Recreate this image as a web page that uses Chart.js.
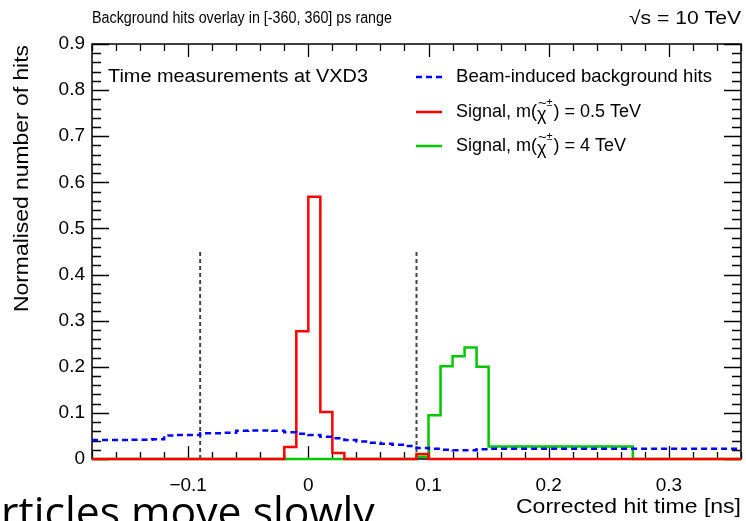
<!DOCTYPE html>
<html>
<head>
<meta charset="utf-8">
<script src="https://cdn.jsdelivr.net/npm/chart.js@4.4.0/dist/chart.umd.min.js"></script>
<style>
  html, body { margin: 0; padding: 0; background: #fff; }
  #wrap { width: 746px; height: 521px; position: relative; }
</style>
</head>
<body>
<div id="wrap"><canvas id="timeChart" width="746" height="521"></canvas></div>
<script>
// tick labels
const xTicks = [-0.1, 0, 0.1, 0.2, 0.3];
const yTicks = [0, 0.1, 0.2, 0.3, 0.4, 0.5, 0.6, 0.7, 0.8, 0.9];

// beam-induced background (bin lower edges + last upper edge)
const bgEdges = [-0.18, -0.17, -0.16, -0.15, -0.14, -0.13, -0.12, -0.11, -0.10, -0.09,
                 -0.08, -0.07, -0.06, -0.05, -0.04, -0.03, -0.02, -0.01, 0.00, 0.01,
                 0.02, 0.03, 0.04, 0.05, 0.06, 0.07, 0.08, 0.09, 0.10, 0.11,
                 0.12, 0.13, 0.14, 0.15, 0.36];
const bgHits = [0.041, 0.041, 0.041, 0.042, 0.042, 0.043, 0.051, 0.052, 0.052, 0.056,
                0.056, 0.057, 0.061, 0.062, 0.062, 0.061, 0.058, 0.055, 0.052, 0.048,
                0.045, 0.041, 0.038, 0.035, 0.033, 0.031, 0.028, 0.024, 0.022, 0.020,
                0.019, 0.019, 0.021, 0.022];

// signal, m = 0.5 TeV
const lowEdges = [-0.18, -0.02, -0.01, 0.00, 0.01, 0.02, 0.03, 0.09, 0.10, 0.36];
const sigLow = [0, 0.026, 0.277, 0.569, 0.102, 0.013, 0, 0.011, 0];

// signal, m = 4 TeV
const highEdges = [-0.18, 0.09, 0.10, 0.11, 0.12, 0.13, 0.14, 0.15, 0.27, 0.36];
const sigHigh = [0, 0.005, 0.095, 0.201, 0.223, 0.242, 0.2, 0.027, 0];

// timing window cut
const cutTimes = [-0.09, 0.09];
const cutHeight = 0.45;

const FONT = "'Liberation Sans', Arial, sans-serif";

function toSteps(edges, vals) {
    const pts = vals.map((v, i) => ({ x: edges[i], y: v }));
    pts.push({ x: edges[edges.length - 1], y: vals[vals.length - 1] });
    return pts;
}

function minus(v) {
    const s = String(Math.round(v * 10) / 10);
    return s.replace('-', '\u2212');
}

// draw text squeezed/stretched to a given width (the source image is not square-pixel)
function fitText(ctx, text, x, y, size, width, align) {
    ctx.font = size + 'px ' + FONT;
    const w = ctx.measureText(text).width;
    const k = width / w;
    ctx.save();
    ctx.translate(x, y);
    ctx.scale(k, 1);
    ctx.textAlign = align;
    ctx.fillText(text, 0, 0);
    ctx.restore();
}

// ROOT style frame with inward ticks
const framePlugin = {
    id: 'frame',
    beforeDatasetsDraw(chart) {
        const { ctx, chartArea: a, scales } = chart;
        const x = scales.x, y = scales.y;
        ctx.save();
        ctx.strokeStyle = '#000';
        ctx.lineWidth = 1.5;
        ctx.strokeRect(a.left, a.top, a.right - a.left, a.bottom - a.top);
        ctx.lineWidth = 1.3;
        ctx.beginPath();
        for (let v = -0.18; v <= 0.361; v += 0.02) {
            const px = Math.round(x.getPixelForValue(v)) + 0.5;
            const major = xTicks.some(t => Math.abs(t - v) < 1e-6);
            const len = major ? 13 : 7;
            ctx.moveTo(px, a.bottom); ctx.lineTo(px, a.bottom - len);
            ctx.moveTo(px, a.top); ctx.lineTo(px, a.top + len);
        }
        for (let v = 0; v <= 0.901; v += 0.02) {
            const py = Math.round(y.getPixelForValue(v)) + 0.5;
            const major = yTicks.some(t => Math.abs(t - v) < 1e-6);
            const len = major ? 17 : 9;
            ctx.moveTo(a.left, py); ctx.lineTo(a.left + len, py);
            ctx.moveTo(a.right, py); ctx.lineTo(a.right - len, py);
        }
        ctx.stroke();

        ctx.fillStyle = '#000';
        ctx.font = '19px ' + FONT;
        ctx.textAlign = 'center';
        ctx.textBaseline = 'middle';
        xTicks.forEach(t => ctx.fillText(minus(t), x.getPixelForValue(t), a.bottom + 27));
        ctx.textAlign = 'right';
        yTicks.forEach(t => ctx.fillText(t === 0 ? '0' : t.toFixed(1), a.left - 7, y.getPixelForValue(t)));
        ctx.restore();
    },
    afterDraw(chart) {
        const { ctx } = chart;
        ctx.save();
        ctx.fillStyle = '#000';
        ctx.textBaseline = 'middle';

        fitText(ctx, 'Background hits overlay in [-360, 360] ps range', 92, 19, 16, 300, 'left');
        fitText(ctx, '\u221As = 10 TeV', 741, 19, 19, 112, 'right');

        fitText(ctx, 'Corrected hit time [ns]', 741, 507, 20, 225, 'right');
        ctx.save();
        ctx.translate(22, 45);
        ctx.rotate(-Math.PI / 2);
        fitText(ctx, 'Normalised number of hits', 0, 0, 21, 267, 'right');
        ctx.restore();

        fitText(ctx, 'Time measurements at VXD3', 108, 77, 19, 260, 'left');

        // legend
        const rows = [
            { y: 77, color: '#0000ff', dash: [6, 4] },
            { y: 112, color: '#ff0000', dash: [], mass: '0.5' },
            { y: 146, color: '#00c800', dash: [], mass: '4' }
        ];
        rows.forEach(r => {
            ctx.strokeStyle = r.color;
            ctx.lineWidth = 2.5;
            ctx.setLineDash(r.dash);
            ctx.beginPath();
            ctx.moveTo(416, r.y); ctx.lineTo(442, r.y);
            ctx.stroke();
            ctx.setLineDash([]);
            if (!r.mass) {
                fitText(ctx, 'Beam-induced background hits', 456, r.y, 19, 256, 'left');
                return;
            }
            ctx.textAlign = 'left';
            ctx.font = '18px ' + FONT;
            let tx = 456;
            ctx.fillText('Signal, m(', tx, r.y);
            tx += ctx.measureText('Signal, m(').width;
            ctx.fillText('\u03C7', tx, r.y + 3);
            const cw = ctx.measureText('\u03C7').width;
            ctx.font = '15px ' + FONT;
            ctx.fillText('~', tx + 1, r.y - 8);
            ctx.font = '11px ' + FONT;
            ctx.fillText('\u00B1', tx + cw, r.y - 9);
            ctx.font = '18px ' + FONT;
            ctx.fillText(') = ' + r.mass + ' TeV', tx + cw + 7, r.y);
        });

        // cropped slide text under the plot
        const bigFont = "'Open Sans', sans-serif";
        ctx.font = '40px ' + bigFont;
        ctx.textBaseline = 'alphabetic';
        ctx.textAlign = 'left';
        const shown = 'rticles move slowly.';
        const w = ctx.measureText(shown).width;
        const size = 40 * 385 / w;
        ctx.font = size + 'px ' + bigFont;
        const pre = ctx.measureText('pa').width;
        ctx.fillText('particles move slowly.', -pre + 1, 527);
        ctx.restore();
    }
};

const ctx = document.getElementById('timeChart').getContext('2d');

new Chart(ctx, {
    type: 'line',
    data: {
        datasets: [
            {
                label: 'Beam-induced background hits',
                data: toSteps(bgEdges, bgHits),
                borderColor: '#0000ff',
                borderWidth: 2.5,
                borderDash: [6, 4],
                stepped: 'before',
                pointRadius: 0,
                fill: false,
                clip: false
            },
            {
                label: 'Signal, m = 0.5 TeV',
                data: toSteps(lowEdges, sigLow),
                borderColor: '#ff0000',
                borderWidth: 2.5,
                stepped: 'before',
                pointRadius: 0,
                fill: false,
                clip: false
            },
            {
                label: 'Signal, m = 4 TeV',
                data: toSteps(highEdges, sigHigh),
                borderColor: '#00c800',
                borderWidth: 2.5,
                stepped: 'before',
                pointRadius: 0,
                fill: false,
                clip: false
            },
            ...cutTimes.map(t => ({
                label: 'cut',
                data: [{ x: t, y: 0 }, { x: t, y: cutHeight }],
                borderColor: '#444444',
                borderWidth: 2,
                borderDash: [4, 3],
                pointRadius: 0,
                fill: false
            }))
        ]
    },
    options: {
        responsive: false,
        animation: false,
        layout: { padding: { left: 92, right: 5, top: 44, bottom: 62 } },
        plugins: { legend: { display: false }, tooltip: { enabled: false } },
        scales: {
            x: { type: 'linear', min: -0.18, max: 0.36, display: false },
            y: { type: 'linear', min: 0, max: 0.9, display: false }
        }
    },
    plugins: [framePlugin]
});
</script>
</body>
</html>
